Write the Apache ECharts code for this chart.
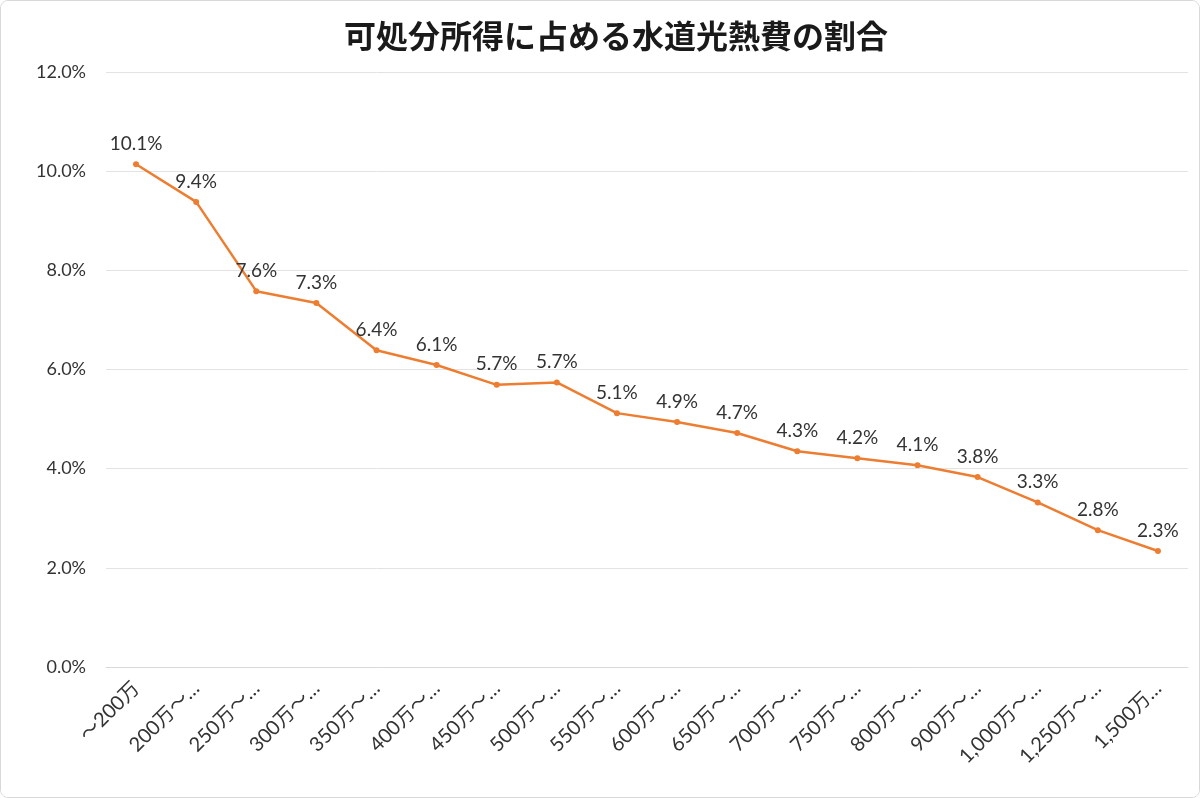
<!DOCTYPE html>
<html><head><meta charset="utf-8">
<script src="https://cdn.jsdelivr.net/npm/echarts@6/dist/echarts.min.js"></script>
<style>
html,body{margin:0;padding:0;background:#fff;}
#wrap{position:absolute;left:0;top:0;width:1200px;height:798px;box-sizing:border-box;border:1px solid #d9d9d9;border-radius:8px;overflow:hidden;}
#c{width:1198px;height:796px;}
</style></head>
<body>
<div id="wrap"><div id="c"></div></div>
<script>
var titleText = '可処分所得に占める水道光熱費の割合';
var categories = ['～200万','200万～…','250万～…','300万～…','350万～…','400万～…','450万～…','500万～…','550万～…','600万～…','650万～…','700万～…','750万～…','800万～…','900万～…','1,000万～…','1,250万～…','1,500万…'];
var ratioPct = [10.14,9.38,7.58,7.34,6.39,6.09,5.69,5.74,5.12,4.94,4.72,4.35,4.21,4.07,3.83,3.32,2.76,2.34];
var yTicks = [0,2,4,6,8,10,12];

var FONT = "Lato, 'Noto Sans CJK JP', sans-serif";
var chart = echarts.init(document.getElementById('c'));
chart.setOption({
  animation:false,
  backgroundColor:'#fff',
  title:{text:titleText,left:338,top:14,
    textStyle:{fontFamily:"'Noto Sans CJK JP', sans-serif",fontSize:32,fontWeight:'bold',color:'#1a1a1a'}},
  grid:{left:105,right:11,top:71,bottom:130},
  xAxis:{type:'category',data:categories,boundaryGap:true,
    axisLine:{lineStyle:{color:'#d9d9d9'}},axisTick:{show:false},
    axisLabel:{rotate:45,interval:0,margin:18,fontSize:20,color:'#333',fontFamily:FONT}},
  yAxis:{type:'value',min:yTicks[0],max:yTicks[yTicks.length-1],interval:2,
    axisLine:{show:false},axisTick:{show:false},
    splitLine:{lineStyle:{color:'#e3e3e3'}},
    axisLabel:{margin:20,fontSize:18,color:'#333',fontFamily:FONT,
      formatter:function(v){return v.toFixed(1)+'%';}}},
  series:[{type:'line',data:ratioPct,
    lineStyle:{color:'#ED7D31',width:2.5},
    itemStyle:{color:'#ED7D31'},symbol:'circle',symbolSize:6,
    label:{show:true,position:'top',distance:8,fontSize:19,color:'#333',fontFamily:FONT,
      formatter:function(p){return p.value.toFixed(1)+'%';}}}]
});
</script>
</body></html>
